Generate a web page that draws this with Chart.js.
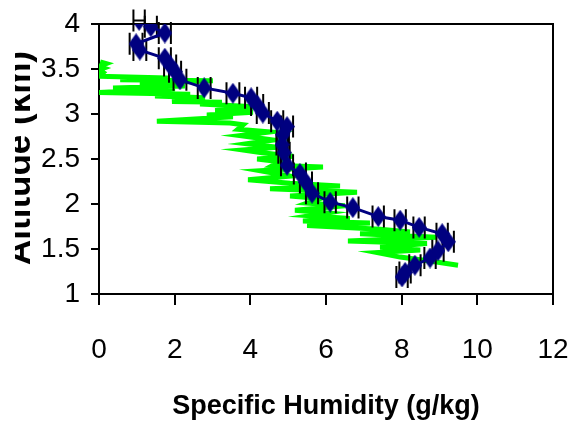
<!DOCTYPE html>
<html>
<head>
<meta charset="utf-8">
<script src="https://cdn.jsdelivr.net/npm/chart.js@4.4.1/dist/chart.umd.min.js"></script>
<style>
  html, body { margin: 0; padding: 0; background: #fff; }
</style>
</head>
<body>
<canvas id="humidity" width="571" height="428"></canvas>
<script>
// radiosonde profile (green trace)
let sondeQ = [0.03, 0.19, 0.0, 0.13, 0.0, 0.11, 0.0, 1.82, 0.56, 3.01, 1.08, 2.27, 0.37, 2.01, 0.0,
  2.41, 1.48, 2.80, 1.93, 3.25, 2.67, 4.12, 3.07, 4.07, 2.85, 3.54, 1.53, 3.46, 3.81, 3.67,
  4.52, 3.73, 4.60, 3.91, 4.71, 3.81, 4.31, 5.13, 4.18, 4.78, 4.60, 5.92, 4.26, 5.05, 3.94,
  5.05, 6.37, 4.52, 6.82, 5.05, 5.84, 5.50, 6.50, 5.18, 6.03, 5.58, 6.63, 5.39, 7.16, 5.50,
  7.43, 8.22, 6.90, 8.93, 6.58, 8.67, 7.43, 8.49, 7.35, 7.96, 8.83, 9.49];
let sondeAlt = [3.58, 3.56, 3.53, 3.51, 3.49, 3.46, 3.42, 3.40, 3.38, 3.37, 3.34, 3.31, 3.29, 3.28, 3.24,
  3.22, 3.20, 3.18, 3.14, 3.13, 3.11, 3.08, 3.04, 3.02, 2.99, 2.97, 2.92, 2.90, 2.88, 2.83,
  2.80, 2.76, 2.71, 2.67, 2.63, 2.60, 2.57, 2.53, 2.50, 2.47, 2.43, 2.41, 2.37, 2.31, 2.27,
  2.23, 2.20, 2.17, 2.13, 2.09, 2.06, 2.01, 1.98, 1.93, 1.90, 1.87, 1.84, 1.81, 1.79, 1.76,
  1.72, 1.69, 1.67, 1.63, 1.59, 1.56, 1.52, 1.49, 1.46, 1.41, 1.36, 1.32];

// retrieved profile (navy diamonds) and its humidity error
let retQ = [1.06, 1.37, 1.74, 0.98, 1.08, 1.74, 1.88, 2.01, 2.14, 2.78, 3.54, 4.02, 4.18, 4.33, 4.71,
  4.97, 4.86, 4.84, 4.89, 4.97, 5.31, 5.47, 5.63, 6.11, 6.71, 7.38, 7.96, 8.46, 9.07, 9.23,
  8.96, 8.75, 8.35, 8.09, 8.01];
let retAlt = [4.04, 3.97, 3.90, 3.78, 3.71, 3.62, 3.54, 3.47, 3.38, 3.29, 3.23, 3.18, 3.10, 3.01, 2.92,
  2.86, 2.77, 2.66, 2.57, 2.43, 2.34, 2.24, 2.12, 2.02, 1.96, 1.86, 1.82, 1.74, 1.67, 1.58,
  1.48, 1.40, 1.32, 1.24, 1.19];
let retErr = [0.15, 0.16, 0.16, 0.17, 0.17, 0.16, 0.16, 0.16, 0.17, 0.17, 0.17, 0.16, 0.16, 0.16, 0.16,
  0.16, 0.16, 0.15, 0.15, 0.16, 0.16, 0.16, 0.16, 0.15, 0.15, 0.15, 0.15, 0.15, 0.15, 0.15,
  0.15, 0.15, 0.15, 0.15, 0.15];

let xTicks = [0, 2, 4, 6, 8, 10, 12];
let yTicks = [1, 1.5, 2, 2.5, 3, 3.5, 4];

let fontFamily = "'Liberation Sans', Arial, sans-serif";

// tall diamond marker
function diamond(w, h, color) {
  let c = document.createElement("canvas");
  c.width = w;
  c.height = h;
  let g = c.getContext("2d");
  g.fillStyle = color;
  g.beginPath();
  g.moveTo(w / 2, 0);
  g.lineTo(w, h / 2);
  g.lineTo(w / 2, h);
  g.lineTo(0, h / 2);
  g.closePath();
  g.fill();
  return c;
}

// horizontal error bars with tall caps, drawn under the diamonds
const errorBars = {
  id: "errorBars",
  beforeDatasetDraw(chart, args) {
    if (args.index !== 1) return;
    let ctx = chart.ctx;
    let xs = chart.scales.x;
    let ys = chart.scales.y;
    ctx.save();
    ctx.strokeStyle = "#000";
    ctx.lineWidth = 2;
    retQ.forEach((q, i) => {
      let y = ys.getPixelForValue(retAlt[i]);
      let x0 = xs.getPixelForValue(q - retErr[i]);
      let x1 = xs.getPixelForValue(q + retErr[i]);
      ctx.beginPath();
      ctx.moveTo(x0, y);
      ctx.lineTo(x1, y);
      ctx.moveTo(x0, y - 11);
      ctx.lineTo(x0, y + 11);
      ctx.moveTo(x1, y - 11);
      ctx.lineTo(x1, y + 11);
      ctx.stroke();
    });
    ctx.restore();
  },
};

// box round the plot area
const frame = {
  id: "frame",
  beforeDatasetsDraw(chart) {
    let a = chart.chartArea;
    let ctx = chart.ctx;
    ctx.save();
    ctx.strokeStyle = "#000";
    ctx.lineWidth = 2;
    ctx.strokeRect(a.left, a.top, a.right - a.left, a.bottom - a.top);
    ctx.restore();
  },
};

// y title, cut off at the left edge
const sideTitle = {
  id: "sideTitle",
  afterDraw(chart) {
    let ctx = chart.ctx;
    ctx.save();
    ctx.beginPath();
    ctx.rect(15, 0, 60, chart.height);
    ctx.clip();
    ctx.translate(30, 158);
    ctx.rotate(-Math.PI / 2);
    ctx.font = "bold 35px " + fontFamily;
    ctx.fillStyle = "#000";
    ctx.textAlign = "center";
    ctx.textBaseline = "alphabetic";
    ctx.fillText("Altitude (km)", 0, 0);
    ctx.restore();
  },
};

let ctx1 = document.getElementById("humidity").getContext("2d");
let chart = new Chart(ctx1, {
  type: "scatter",
  data: {
    datasets: [
      {
        data: sondeQ.map((q, i) => ({ x: q, y: sondeAlt[i] })),
        showLine: true,
        borderColor: "#00ff00",
        borderWidth: 5,
        pointRadius: 0,
        order: 2,
      },
      {
        data: retQ.map((q, i) => ({ x: q, y: retAlt[i] })),
        showLine: true,
        borderColor: "#000080",
        borderWidth: 3,
        pointStyle: diamond(15, 21, "#000080"),
        pointRadius: 10,
        order: 1,
      },
    ],
  },
  options: {
    responsive: false,
    animation: false,
    devicePixelRatio: 1,
    layout: {
      padding: { top: 24, right: 18, left: 0, bottom: 0 },
    },
    plugins: {
      legend: { display: false },
      tooltip: { enabled: false },
    },
    scales: {
      x: {
        type: "linear",
        min: 0,
        max: 12,
        afterBuildTicks: (axis) => {
          axis.ticks = xTicks.map((v) => ({ value: v }));
        },
        afterFit: (axis) => {
          axis.height = 134;
          axis.paddingLeft = 0;
          axis.paddingRight = 0;
        },
        border: { color: "#000", width: 2 },
        grid: { drawOnChartArea: false, color: "#000", lineWidth: 2, tickLength: 11 },
        ticks: {
          color: "#000",
          padding: 28,
          maxRotation: 0,
          font: { family: fontFamily, size: 28 },
          callback: (v) => String(v),
        },
        title: {
          display: true,
          text: "Specific Humidity (g/kg)",
          color: "#000",
          padding: { top: 0, bottom: 5 },
          font: { family: fontFamily, size: 27, weight: "bold" },
        },
      },
      y: {
        type: "linear",
        min: 1,
        max: 4,
        afterBuildTicks: (axis) => {
          axis.ticks = yTicks.map((v) => ({ value: v }));
        },
        afterFit: (axis) => {
          axis.width = 99;
          axis.paddingTop = 0;
          axis.paddingBottom = 0;
        },
        border: { color: "#000", width: 2 },
        grid: { drawOnChartArea: false, color: "#000", lineWidth: 2, tickLength: 8 },
        ticks: {
          color: "#000",
          padding: 11,
          font: { family: fontFamily, size: 28 },
          callback: (v) => String(v),
        },
      },
    },
  },
  plugins: [errorBars, frame, sideTitle],
});
</script>
</body>
</html>
